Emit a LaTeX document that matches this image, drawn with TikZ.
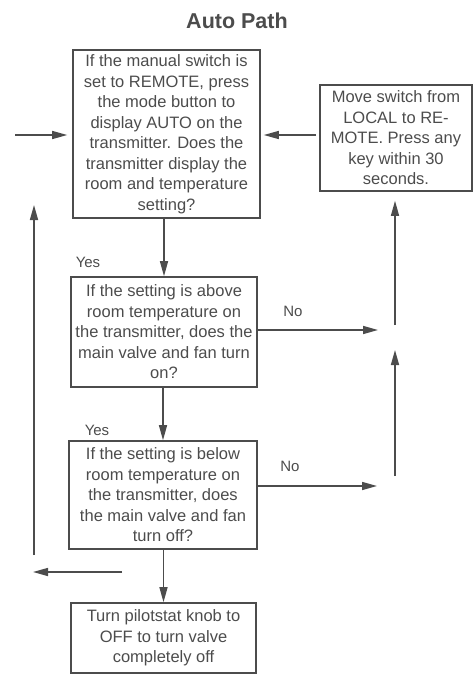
\documentclass[tikz,border=0pt]{standalone}
\usepackage{fontspec}
\setmainfont{Liberation Sans}
\usepackage{tikz}
\usetikzlibrary{positioning,calc,arrows.meta}
\definecolor{ink}{gray}{0.3}
\tikzset{
  qbox/.style={draw=ink, line width=1.6pt, inner sep=0pt, align=center, text=ink,
    font=\fontsize{16.5}{20.5}\selectfont},
  flow/.style={draw=ink, line width=1.5pt, -{Triangle[length=15pt,width=8pt]}},
  lbl/.style={text=ink, font=\fontsize{15}{18}\selectfont}
}
\begin{document}
\begin{tikzpicture}[x=1pt,y=-1pt]
    \useasboundingbox (0,0) rectangle (473,675);
    \node [text=ink, font=\fontsize{21.5}{24}\bfseries] (title) at (237,21) {Auto Path};

    \node [qbox, minimum width=187pt, minimum height=168pt] (ask) at (166.5,134)
        {If the manual switch is\\set to REMOTE, press\\the mode button to\\display AUTO on the\\transmitter. Does the\\transmitter display the\\room and temperature\\setting?};
    \node [qbox, minimum width=152pt, minimum height=106pt] (move) at (396,138)
        {Move switch from\\LOCAL to RE-\\MOTE. Press any\\key within 30\\seconds.};
    \node [qbox, minimum width=186pt, minimum height=110pt] (above) at (164,332)
        {If the setting is above\\room temperature on\\the transmitter, does the\\main valve and fan turn\\on?};
    \node [qbox, minimum width=188pt, minimum height=108pt] (below) at (163,495)
        {If the setting is below\\room temperature on\\the transmitter, does\\the main valve and fan\\turn off?};
    \node [qbox, minimum width=185pt, minimum height=70pt] (knob) at (163.5,638)
        {Turn pilotstat knob to\\OFF to turn valve\\completely off};

    \node [lbl] (yes1) at (88,262) {Yes};
    \node [lbl] (yes2) at (97,430) {Yes};
    \node [lbl] (no1) at (293,311) {No};
    \node [lbl] (no2) at (290,466) {No};

    \coordinate (inL) at (15,135);
    \coordinate (noA) at (378,330);
    \coordinate (noB) at (377,486);
    \coordinate (upA) at (395,325);
    \coordinate (upB) at (395,476);
    \coordinate (upBend) at (395,350);
    \coordinate (back) at (34,555);
    \coordinate (backend) at (34,205);
    \coordinate (out) at (122,572);
    \coordinate (outend) at (33,572);

    \draw [flow, shorten >=5pt] (inL) -- (inL -| ask.west);
    \draw [flow, shorten <=3pt, shorten >=3pt] (move.west |- inL) -- (inL -| ask.east);
    \draw [flow] (above.north |- ask.south) -- (above.north);
    \draw [flow] (below.north |- above.south) -- (below.north);
    \draw [flow] (knob.north |- below.south) -- (knob.north);
    \draw [flow] (noA -| above.east) -- (noA);
    \draw [flow] (noB -| below.east) -- (noB);
    \draw [flow, shorten >=9pt] (upA) -- (upA |- move.south);
    \draw [flow] (upB) -- (upBend);
    \draw [flow] (back) -- (backend);
    \draw [flow] (out) -- (outend);
\end{tikzpicture}
\end{document}
